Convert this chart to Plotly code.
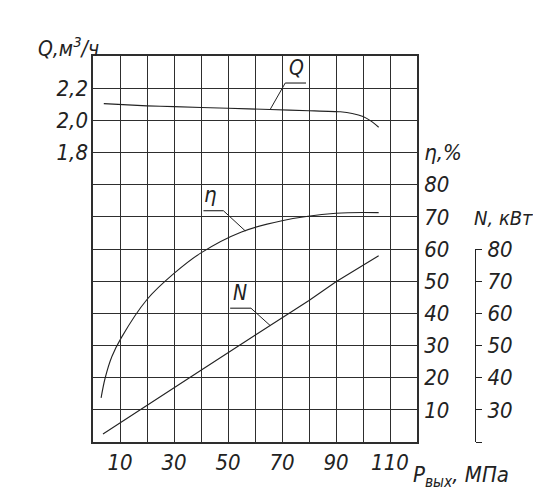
import numpy as np
import plotly.graph_objects as go

# ---- data ----
p_q = [4, 20, 30, 50, 65.6, 80, 91.6, 96, 100, 103, 105.8]
q_vals = [2.104, 2.090, 2.085, 2.075, 2.067, 2.060, 2.053, 2.043, 2.024, 1.995, 1.957]

p_eta = [3.0, 4.5, 7, 10.4, 20, 30, 40, 55, 70, 90, 105.8]
eta_vals = [13.7, 19.9, 26.6, 32.3, 44.3, 52.4, 58.8, 65.3, 68.8, 71.1, 71.3]

p_n = [3.7, 20, 40, 60, 80, 90, 100, 105.8]
n_vals = [22.5, 31.3, 42.3, 53.2, 64.0, 69.8, 74.9, 77.9]

x_ticks = [10, 30, 50, 70, 90, 110]
q_ticks = [1.8, 2.0, 2.2]
q_ticktext = ["1,8", "2,0", "2,2"]
eta_ticks = [10, 20, 30, 40, 50, 60, 70, 80, 90]
eta_ticktext = ["10", "20", "30", "40", "50", "60", "70", "80", "η,%"]
n_ticks = [30, 40, 50, 60, 70, 80]
n_ticktext = ["30", "40", "50", "60", "70", "80"]

# ---- layout geometry (page body has an 8px margin) ----
OFF = 8
W, H = 541 - OFF, 500 - OFF
ML, MT, MB, MR = 85, 48, 58, 21
PW = W - ML - MR
PH = H - MT - MB
XDOM = (417 - 93) / PW


def px_x(px):
    return (px - OFF - ML) / PW


def px_y(py):
    return (H - MB - (py - OFF)) / PH


FONT = "DejaVu Sans Condensed, Liberation Sans Narrow, DejaVu Sans, sans-serif"
INK = "#222222"
GRID = "#2e2e2e"


def f(size):
    return dict(family=FONT, size=size, color=INK, style="italic")


fig = go.Figure()
fig.add_trace(go.Scatter(x=p_q, y=q_vals, xaxis="x", yaxis="y2", mode="lines",
                         line=dict(color=INK, width=1.1, shape="spline", smoothing=0.6),
                         hoverinfo="skip", showlegend=False))
fig.add_trace(go.Scatter(x=p_eta, y=eta_vals, xaxis="x", yaxis="y", mode="lines",
                         line=dict(color=INK, width=1.1, shape="spline", smoothing=1.0),
                         hoverinfo="skip", showlegend=False))
fig.add_trace(go.Scatter(x=p_n, y=n_vals, xaxis="x", yaxis="y3", mode="lines",
                         line=dict(color=INK, width=1.1),
                         hoverinfo="skip", showlegend=False))

fig.update_layout(
    width=W, height=H,
    margin=dict(l=ML, r=MR, t=MT, b=MB, pad=0),
    paper_bgcolor="white", plot_bgcolor="rgba(0,0,0,0)",
    showlegend=False,
    xaxis=dict(domain=[0, XDOM], range=[0, 120],
               tickmode="array", tickvals=x_ticks, ticktext=[str(v) for v in x_ticks],
               minor=dict(tickmode="array", tickvals=list(range(0, 121, 10)),
                          showgrid=True, gridcolor=GRID, gridwidth=1.3, ticks=""),
               showgrid=True, gridcolor=GRID, gridwidth=1.3,
               showline=True, linecolor=GRID, linewidth=1.5, mirror=True,
               ticks="", ticklabelstandoff=0, tickfont=f(22), zeroline=False,
               fixedrange=True),
    yaxis=dict(domain=[0, 1], range=[0, 120], anchor="x", side="right",
               tickmode="array", tickvals=eta_ticks, ticktext=eta_ticktext,
               minor=dict(tickmode="array", tickvals=list(range(0, 121, 10)),
                          showgrid=True, gridcolor=GRID, gridwidth=1.3, ticks=""),
               showgrid=True, gridcolor=GRID, gridwidth=1.3,
               showline=True, linecolor=GRID, linewidth=1.5, mirror=True,
               ticks="", ticklabelstandoff=1, tickfont=f(22), zeroline=False),
    yaxis2=dict(overlaying="y", anchor="x", side="left", range=[0, 2.4],
                tickmode="array", tickvals=q_ticks, ticktext=q_ticktext,
                showgrid=False, showline=False, zeroline=False, ticks="",
                ticklabelstandoff=4, tickfont=f(22)),
    yaxis3=dict(domain=[0, 0.5], range=[20, 80], anchor="free",
                position=px_x(475), side="right",
                tickmode="array", tickvals=n_ticks, ticktext=n_ticktext,
                minor=dict(tickmode="array", tickvals=[20], ticks="outside",
                           ticklen=6, tickcolor=INK, tickwidth=1.2),
                showgrid=False, showline=True, linecolor=INK, linewidth=1.2,
                ticks="outside", ticklen=6, tickcolor=INK, tickwidth=1.2,
                ticklabelstandoff=1, tickfont=f(22), zeroline=False),
)

ann = []
shapes = []
ann.append(dict(xref="paper", yref="paper", x=px_x(101), y=px_y(47),
                xanchor="right", yanchor="middle", showarrow=False,
                text="Q,м<sup>3</sup>/ч", font=f(21)))
ann.append(dict(xref="paper", yref="paper", x=px_x(411), y=px_y(476),
                xanchor="left", yanchor="middle", showarrow=False,
                text="P<sub>вых</sub>, МПа", font=f(22)))
ann.append(dict(xref="paper", yref="paper", x=px_x(472), y=px_y(218),
                xanchor="left", yanchor="middle", showarrow=False,
                text="N, кВт", font=f(20)))

# Q label: underline and leader down-left to the Q curve
qx = 65.6
qy = float(np.interp(qx, p_q, q_vals))
ann.append(dict(xref="x", yref="y2", x=75.3, y=2.238, xanchor="center", yanchor="bottom",
                showarrow=False, text="Q", font=f(21)))
shapes.append(dict(type="line", xref="x", yref="y2", x0=71.2, x1=78.9, y0=2.232, y1=2.232,
                   line=dict(color=INK, width=1.1)))
shapes.append(dict(type="line", xref="x", yref="y2", x0=71.2, y0=2.232, x1=qx, y1=qy,
                   line=dict(color=INK, width=1.0)))

# eta label
ex = 56.4
ey = float(np.interp(ex, p_eta, eta_vals))
ann.append(dict(xref="x", yref="y", x=43.6, y=72.3, xanchor="center", yanchor="bottom",
                showarrow=False, text="η", font=f(22)))
shapes.append(dict(type="line", xref="x", yref="y", x0=40.9, x1=48.3, y0=71.9, y1=71.9,
                   line=dict(color=INK, width=1.1)))
shapes.append(dict(type="line", xref="x", yref="y", x0=48.3, y0=71.9, x1=ex, y1=ey,
                   line=dict(color=INK, width=1.0)))

# N label (on the N axis scale)
nx = 65.6
ny = float(np.interp(nx, p_n, n_vals))
ann.append(dict(xref="x", yref="y3", x=54.6, y=62.0, xanchor="center", yanchor="bottom",
                showarrow=False, text="N", font=f(21)))
shapes.append(dict(type="line", xref="x", yref="y3", x0=50.8, x1=58.5, y0=61.6, y1=61.6,
                   line=dict(color=INK, width=1.1)))
shapes.append(dict(type="line", xref="x", yref="y3", x0=58.5, y0=61.6, x1=nx, y1=ny,
                   line=dict(color=INK, width=1.0)))

fig.update_layout(annotations=ann, shapes=shapes)
fig.write_html("out.html")
